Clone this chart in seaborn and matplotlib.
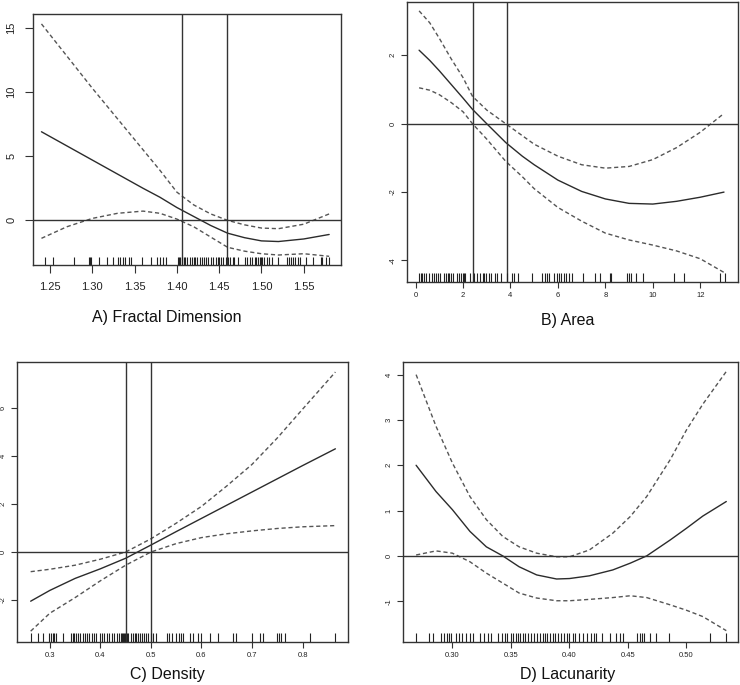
import numpy as np
import pandas as pd
import seaborn as sns
import matplotlib.pyplot as plt

# A) Fractal Dimension
fd_x = [1.24, 1.27, 1.30, 1.33, 1.36, 1.38, 1.40, 1.42, 1.44, 1.46, 1.48, 1.50, 1.52, 1.55, 1.58]
fd_fit = [6.9, 5.8, 4.7, 3.6, 2.5, 1.8, 1.0, 0.3, -0.4, -1.0, -1.35, -1.6, -1.65, -1.45, -1.1]
fd_upper = [15.3, 12.8, 10.3, 7.9, 5.5, 3.9, 2.2, 1.2, 0.5, 0.0, -0.35, -0.6, -0.65, -0.3, 0.5]
fd_lower = [-1.4, -0.5, 0.15, 0.55, 0.72, 0.55, 0.1, -0.5, -1.3, -2.1, -2.4, -2.6, -2.7, -2.6, -2.8]
fd_vlines = [1.406, 1.459]
fd_rug = [1.244, 1.254, 1.278, 1.296, 1.297, 1.299, 1.308, 1.317, 1.324, 1.330, 1.333,
          1.336, 1.339, 1.343, 1.346, 1.359, 1.370, 1.377, 1.380, 1.384, 1.387, 1.401,
          1.402, 1.404, 1.406, 1.408, 1.410, 1.412, 1.415, 1.418, 1.420, 1.421, 1.424,
          1.427, 1.430, 1.432, 1.435, 1.437, 1.440, 1.443, 1.446, 1.449, 1.450, 1.452,
          1.455, 1.458, 1.461, 1.463, 1.466, 1.468, 1.472, 1.480, 1.483, 1.486, 1.489,
          1.492, 1.494, 1.496, 1.498, 1.499, 1.501, 1.503, 1.506, 1.509, 1.513, 1.520,
          1.530, 1.533, 1.535, 1.537, 1.540, 1.543, 1.546, 1.553, 1.561, 1.570, 1.571,
          1.576, 1.580]

# B) Area
ar_x = [0.15, 0.6, 1, 1.5, 2, 2.4, 3, 3.8, 4.5, 5, 6, 7, 8, 9, 10, 11, 12, 13]
ar_fit = [2.15, 1.85, 1.55, 1.15, 0.75, 0.42, 0.0, -0.55, -0.95, -1.2, -1.65, -1.98,
          -2.2, -2.33, -2.35, -2.27, -2.15, -2.0]
ar_upper = [3.3, 2.95, 2.5, 1.9, 1.35, 0.8, 0.4, 0.0, -0.35, -0.6, -0.95, -1.2, -1.3,
            -1.25, -1.05, -0.7, -0.25, 0.3]
ar_lower = [1.05, 0.98, 0.85, 0.62, 0.35, 0.0, -0.45, -1.1, -1.55, -1.9, -2.45, -2.85,
            -3.2, -3.4, -3.55, -3.72, -3.95, -4.35]
ar_vlines = [2.43, 3.84]
ar_rug = [0.15, 0.22, 0.28, 0.35, 0.45, 0.55, 0.7, 0.78, 0.85, 0.95, 1.05, 1.2, 1.3, 1.38,
          1.42, 1.5, 1.58, 1.75, 1.85, 1.92, 1.98, 2.05, 2.1, 2.3, 2.45, 2.6, 2.7, 2.85,
          2.9, 2.95, 3.1, 3.2, 3.35, 3.45, 3.6, 3.85, 4.05, 4.15, 4.3, 4.9, 5.32, 5.46,
          5.55, 5.62, 5.85, 5.95, 6.05, 6.15, 6.25, 6.35, 6.45, 6.6, 7.05, 7.58, 7.78,
          8.2, 8.22, 8.9, 9.0, 9.1, 9.3, 9.58, 10.9, 11.33, 12.85, 13.03]

# C) Density
de_x = [0.262, 0.30, 0.35, 0.40, 0.45, 0.50, 0.55, 0.60, 0.65, 0.70, 0.75, 0.80, 0.865]
de_fit = [-2.05, -1.6, -1.1, -0.7, -0.26, 0.29, 0.85, 1.4, 1.95, 2.5, 3.05, 3.6, 4.3]
de_upper = [-0.82, -0.72, -0.55, -0.3, 0.0, 0.55, 1.2, 1.9, 2.75, 3.65, 4.75, 5.95, 7.5]
de_lower = [-3.3, -2.55, -1.9, -1.2, -0.55, 0.0, 0.35, 0.6, 0.76, 0.88, 0.98, 1.05, 1.1]
de_vlines = [0.45, 0.50]
de_rug = [0.262, 0.277, 0.287, 0.299, 0.303, 0.307, 0.309, 0.313, 0.325, 0.342, 0.345,
          0.348, 0.352, 0.356, 0.360, 0.365, 0.370, 0.373, 0.378, 0.383, 0.388, 0.392,
          0.399, 0.404, 0.408, 0.413, 0.418, 0.422, 0.427, 0.432, 0.436, 0.440, 0.443,
          0.445, 0.447, 0.449, 0.452, 0.455, 0.460, 0.464, 0.468, 0.471, 0.474, 0.478,
          0.482, 0.486, 0.490, 0.495, 0.500, 0.505, 0.510, 0.531, 0.536, 0.542, 0.550,
          0.556, 0.560, 0.564, 0.577, 0.584, 0.594, 0.600, 0.617, 0.633, 0.663, 0.668,
          0.699, 0.716, 0.721, 0.749, 0.754, 0.758, 0.765, 0.815, 0.864]

# D) Lacunarity
la_x = [0.269, 0.286, 0.300, 0.315, 0.329, 0.343, 0.357, 0.372, 0.389, 0.400, 0.417,
        0.437, 0.452, 0.466, 0.486, 0.500, 0.514, 0.534]
la_fit = [2.0, 1.42, 1.02, 0.54, 0.2, 0.0, -0.24, -0.42, -0.51, -0.5, -0.44, -0.31,
          -0.16, 0.0, 0.35, 0.61, 0.88, 1.2]
la_upper = [4.0, 2.86, 2.05, 1.31, 0.8, 0.43, 0.2, 0.06, -0.02, -0.02, 0.13, 0.5, 0.87,
            1.31, 2.12, 2.78, 3.35, 4.07]
la_lower = [0.02, 0.11, 0.06, -0.13, -0.38, -0.6, -0.82, -0.93, -0.99, -0.99, -0.96,
            -0.92, -0.88, -0.92, -1.08, -1.2, -1.34, -1.65]
la_vlines = []
la_rug = [0.269, 0.280, 0.283, 0.290, 0.293, 0.295, 0.297, 0.299, 0.303, 0.306, 0.308,
          0.312, 0.315, 0.318, 0.324, 0.327, 0.330, 0.333, 0.339, 0.342, 0.345, 0.347,
          0.350, 0.352, 0.354, 0.356, 0.358, 0.360, 0.362, 0.365, 0.367, 0.370, 0.372,
          0.375, 0.377, 0.379, 0.381, 0.383, 0.386, 0.388, 0.390, 0.393, 0.395, 0.398,
          0.400, 0.403, 0.405, 0.408, 0.412, 0.415, 0.418, 0.421, 0.423, 0.428, 0.435,
          0.440, 0.443, 0.446, 0.458, 0.460, 0.462, 0.464, 0.469, 0.474, 0.485, 0.520,
          0.534]

sns.set_style("white")
plt.rcParams['font.family'] = ['Liberation Sans', 'DejaVu Sans']

fig = plt.figure(figsize=(7.4, 6.85), dpi=100)

panels = [
    # curves, rect (l, b, w, h), limits, ticks, formats, title, title pos (px), tick font, tick len, pad
    (fd_x, fd_fit, fd_upper, fd_lower, fd_vlines, fd_rug,
     [0.0446, 0.6131, 0.4162, 0.3664], (1.230, 1.594), (-3.48, 16.07),
     [1.25, 1.30, 1.35, 1.40, 1.45, 1.50, 1.55], [0, 5, 10, 15], "{:.2f}", "{:d}",
     "A) Fractal Dimension", (167, 317), 8, 6, 6),
    (ar_x, ar_fit, ar_upper, ar_lower, ar_vlines, ar_rug,
     [0.55, 0.5883, 0.4473, 0.4088], (-0.36, 13.59), (-4.63, 3.56),
     [0, 2, 4, 6, 8, 10, 12], [-4, -2, 0, 2], "{:d}", "{:d}",
     "B) Area", (568, 320), 5.5, 4, 3.5),
    (de_x, de_fit, de_upper, de_lower, de_vlines, de_rug,
     [0.023, 0.0628, 0.4473, 0.4088], (0.235, 0.890), (-3.75, 7.92),
     [0.3, 0.4, 0.5, 0.6, 0.7, 0.8], [-2, 0, 2, 4, 6], "{:.1f}", "{:d}",
     "C) Density", (167, 675), 5.5, 4, 3.5),
    (la_x, la_fit, la_upper, la_lower, la_vlines, la_rug,
     [0.5446, 0.0628, 0.4527, 0.4088], (0.2578, 0.544), (-1.9, 4.28),
     [0.30, 0.35, 0.40, 0.45, 0.50], [-1, 0, 1, 2, 3, 4], "{:.2f}", "{:d}",
     "D) Lacunarity", (568, 675), 5.5, 4, 3.5),
]

for (x, fit, up, lo, vl, rug, rect, xlim, ylim, xt, yt, xf, yf, title, tpos, tfs, tlen, pad) in panels:
    ax = fig.add_axes(rect)
    sns.lineplot(x=x, y=fit, ax=ax, color="#2b2b2b", linewidth=1.0, sort=False)
    sns.lineplot(x=x, y=up, ax=ax, color="#555555", linewidth=1.0, linestyle=(0, (3, 2)), sort=False)
    sns.lineplot(x=x, y=lo, ax=ax, color="#555555", linewidth=1.0, linestyle=(0, (3, 2)), sort=False)
    ax.axhline(0, color="#333333", linewidth=1.0)
    for v in vl:
        ax.axvline(v, color="#333333", linewidth=1.0)
    sns.rugplot(x=rug, ax=ax, height=0.032, color="#222222", linewidth=0.8)
    ax.set_xlim(*xlim)
    ax.set_ylim(*ylim)
    ax.set_xticks(xt)
    ax.set_xticklabels([xf.format(v) for v in xt])
    ax.set_yticks(yt)
    ax.set_yticklabels([yf.format(v) for v in yt], rotation=90, va="center")
    ax.tick_params(axis="both", direction="out", length=tlen, width=0.8, colors="#333333",
                   labelsize=tfs, labelcolor="#222222", bottom=True, left=True, pad=pad)
    for s in ax.spines.values():
        s.set_color("#333333")
        s.set_linewidth(1.0)
    ax.set_xlabel("")
    ax.set_ylabel("")
    fig.text(tpos[0] / 740, 1 - tpos[1] / 685, title, ha="center", va="center",
             fontsize=11.5, color="#111111")

fig.savefig("out.png", dpi=100)
